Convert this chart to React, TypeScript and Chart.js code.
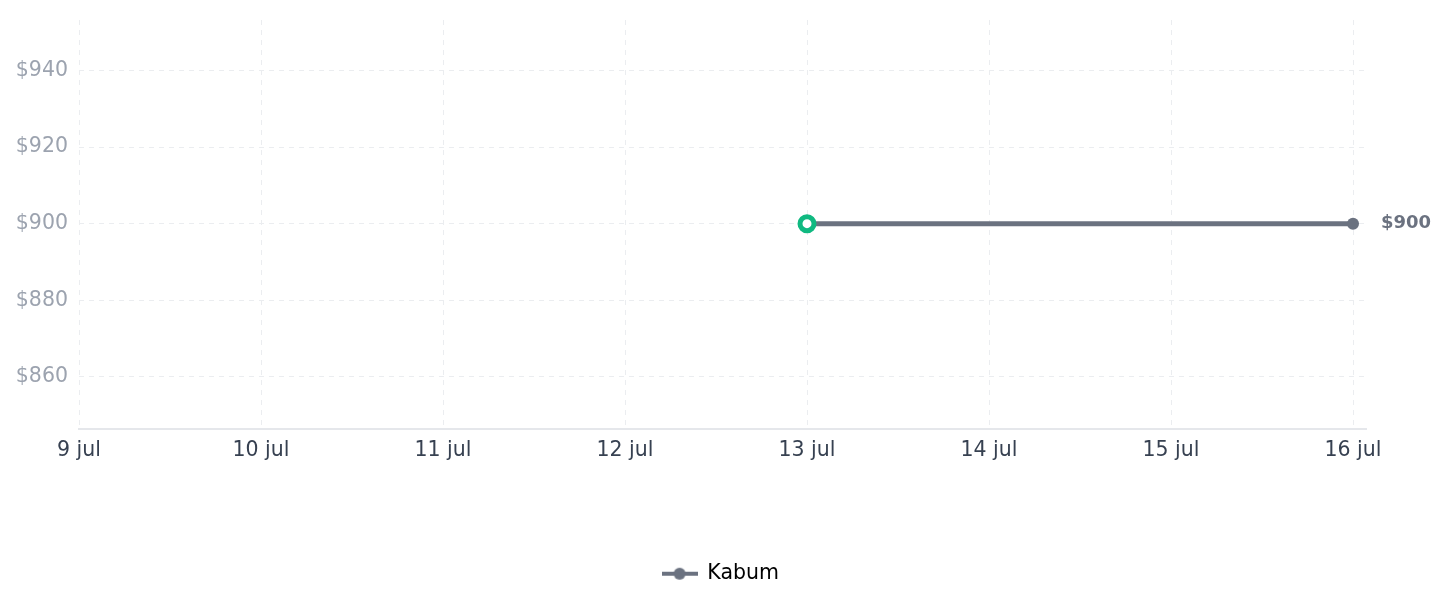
import React, { useEffect, useRef } from "react";
import { Chart, registerables } from "chart.js";

Chart.register(...registerables);

const categories = ["9 jul", "10 jul", "11 jul", "12 jul", "13 jul", "14 jul", "15 jul", "16 jul"];
const kabumPrices: (number | null)[] = [null, null, null, null, 900, null, null, 900];
const yTicks = [860, 880, 900, 920, 940];
const seriesName = "Kabum";

const GRAY = "#6b7280";
const GREEN = "#10b981";
const FONT = "'DejaVu Sans', sans-serif";
const GRID = "#ebedf0";

function legendIcon(): HTMLCanvasElement {
  const c = document.createElement("canvas");
  c.width = 36;
  c.height = 14;
  const ctx = c.getContext("2d")!;
  ctx.strokeStyle = GRAY;
  ctx.lineWidth = 4;
  ctx.beginPath();
  ctx.moveTo(0, 7);
  ctx.lineTo(36, 7);
  ctx.stroke();
  ctx.fillStyle = GRAY;
  ctx.beginPath();
  ctx.arc(18, 7, 6, 0, Math.PI * 2);
  ctx.fill();
  return c;
}

const lastLabelPlugin = {
  id: "lastLabel",
  afterDatasetsDraw(chart: any) {
    const meta = chart.getDatasetMeta(0);
    const pts = meta.data;
    if (!pts.length) return;
    const p = pts[pts.length - 1];
    const ds = chart.data.datasets[0].data;
    const v = ds[ds.length - 1].y;
    const ctx = chart.ctx;
    ctx.save();
    ctx.font = `bold 18px ${FONT}`;
    ctx.fillStyle = GRAY;
    ctx.textAlign = "left";
    ctx.textBaseline = "middle";
    ctx.fillText("$" + v, p.x + 28, p.y);
    ctx.restore();
  },
};

export default function App() {
  const ref = useRef<HTMLCanvasElement | null>(null);

  useEffect(() => {
    if (!ref.current) return;
    const points = kabumPrices
      .map((v, i) => (v === null ? null : { x: i, y: v }))
      .filter((p) => p !== null) as { x: number; y: number }[];
    const icon = legendIcon();

    const chart = new Chart(ref.current, {
      type: "line",
      data: {
        datasets: [
          {
            label: seriesName,
            data: points,
            borderColor: GRAY,
            backgroundColor: GRAY,
            borderWidth: 5,
            pointRadius: points.map((_, i) => (i === 0 ? 7 : 6)),
            pointBorderWidth: points.map((_, i) => (i === 0 ? 5 : 0)),
            pointBackgroundColor: points.map((_, i) => (i === 0 ? "#ffffff" : GRAY)),
            pointBorderColor: points.map((_, i) => (i === 0 ? GREEN : GRAY)),
            tension: 0,
            spanGaps: true,
          },
        ],
      },
      options: {
        animation: false,
        responsive: true,
        maintainAspectRatio: false,
        layout: { padding: { top: 0, right: 6, bottom: 5, left: 0 } },
        font: { family: FONT },
        scales: {
          x: {
            type: "linear",
            min: 0,
            max: categories.length - 1 + 0.0714,
            afterFit: (scale: any) => {
              scale.height = 125;
              scale.paddingRight = 73;
            },
            afterBuildTicks: (scale: any) => {
              scale.ticks = categories.map((_, i) => ({ value: i }));
            },
            ticks: {
              stepSize: 1,
              includeBounds: false,
              autoSkip: false,
              maxRotation: 0,
              padding: 10,
              color: "#374151",
              font: { family: FONT, size: 20.5 },
              callback: (v: any) => categories[Number(v)] ?? "",
            },
            grid: {
              color: GRID,
              drawTicks: false,
            },
            border: { display: true, color: "#e5e7eb", width: 2, dash: [5, 5] },
          },
          y: {
            type: "linear",
            min: 846.5,
            max: 953.2,
            afterFit: (scale: any) => {
              scale.paddingTop = 0;
              scale.paddingBottom = 0;
              scale.width = 71;
            },
            afterBuildTicks: (scale: any) => {
              scale.ticks = yTicks.map((v) => ({ value: v }));
            },
            ticks: {
              includeBounds: false,
              padding: 11,
              color: "#9ca3af",
              font: { family: FONT, size: 20.5 },
              callback: (v: any) => "$" + v,
            },
            grid: {
              color: GRID,
              drawTicks: false,
            },
            border: { display: false, dash: [5, 5] },
          },
        },
        plugins: {
          tooltip: { enabled: false },
          legend: {
            position: "bottom",
            labels: {
              color: "#000000",
              font: { family: FONT, size: 20.5 },
              usePointStyle: true,
              pointStyleWidth: 35,
              boxHeight: 14,
              padding: 10,
              generateLabels: () => [
                {
                  text: seriesName,
                  pointStyle: icon as any,
                  fillStyle: GRAY,
                  strokeStyle: GRAY,
                  lineWidth: 0,
                  hidden: false,
                  datasetIndex: 0,
                  fontColor: "#000000",
                } as any,
              ],
            },
          },
        },
      },
      plugins: [lastLabelPlugin],
    });
    return () => chart.destroy();
  }, []);

  return (
    <div style={{ width: "100%", height: 591, position: "relative" }}>
      <canvas ref={ref} />
    </div>
  );
}
